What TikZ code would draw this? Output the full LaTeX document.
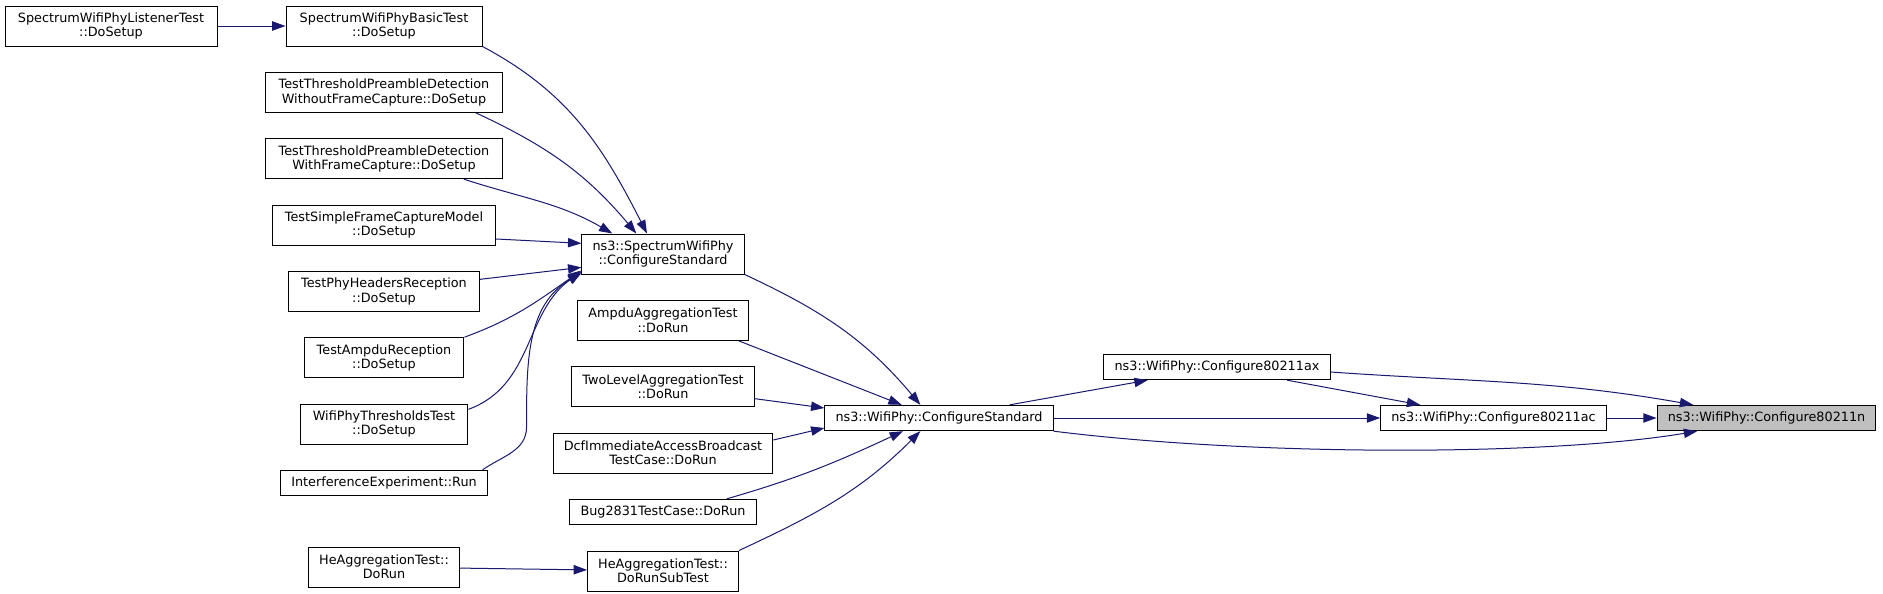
\documentclass[tikz,border=0pt]{standalone}
\usepackage{fontspec}
\setmainfont{DejaVu Sans}
\definecolor{callblue}{HTML}{191970}
\definecolor{focusgrey}{HTML}{BFBFBF}
\usetikzlibrary{arrows.meta,positioning}

\begin{document}
\begin{tikzpicture}[
  x=0.75pt, y=-0.75pt,
  fn/.style={draw=black, fill=white, line width=0.75pt, align=center,
    font=\fontsize{9.6}{10.8}\selectfont, inner xsep=8pt, inner ysep=2pt,
    minimum height=30pt},
  fn1/.style={fn, minimum height=19pt},
  setup/.style={fn, inner xsep=9.5pt},
  call/.style={draw=callblue, line width=0.75pt,
    -{Triangle[length=10pt,width=7pt]}},
]
  \path[use as bounding box, fill=white] (0,0) rectangle (1883,593);

  \node[setup, minimum width=159pt] (lst) at (111,26) {SpectrumWifiPhyListenerTest\\::DoSetup};
  \node[setup, minimum width=147pt] (basic) at (384,26) {SpectrumWifiPhyBasicTest\\::DoSetup};
  \node[setup, below=19pt of basic] (nofc)
    {TestThresholdPreambleDetection\\WithoutFrameCapture::DoSetup};
  \node[setup, below=19pt of nofc] (withfc)
    {TestThresholdPreambleDetection\\WithFrameCapture::DoSetup};
  \node[setup, below=19pt of withfc] (simplefc) {TestSimpleFrameCaptureModel\\::DoSetup};
  \node[setup, below=19pt of simplefc] (hdrs) {TestPhyHeadersReception\\::DoSetup};
  \node[setup, below=19pt of hdrs] (ampdurx) {TestAmpduReception\\::DoSetup};
  \node[setup, below=19pt of ampdurx] (thresh) {WifiPhyThresholdsTest\\::DoSetup};
  \node[fn1, below=19pt of thresh] (interf) {InterferenceExperiment::Run};
  \node[fn] (heagg) at (384,567) {HeAggregationTest::\\DoRun};

  \node[fn] (spec) at (663,254) {ns3::SpectrumWifiPhy\\::ConfigureStandard};
  \node[fn, below=19pt of spec] (ampduagg) {AmpduAggregationTest\\::DoRun};
  \node[fn, below=19pt of ampduagg] (twolevel) {TwoLevelAggregationTest\\::DoRun};
  \node[fn, below=19pt of twolevel] (dcf) {DcfImmediateAccessBroadcast\\TestCase::DoRun};
  \node[fn1, below=19pt of dcf] (bug) {Bug2831TestCase::DoRun};
  \node[fn, below=19pt of bug] (subtest) {HeAggregationTest::\\DoRunSubTest};

  \node[fn1] (cfgstd) at (939,418) {ns3::WifiPhy::ConfigureStandard};
  \node[fn1] (cfgax) at (1217,367) {ns3::WifiPhy::Configure80211ax};
  \node[fn1] (cfgac) at (1493.5,418) {ns3::WifiPhy::Configure80211ac};
  \node[fn1, fill=focusgrey] (cfgn) at (1766.5,418) {ns3::WifiPhy::Configure80211n};

  \draw[call] (lst) -- (basic);
  \draw[call] (basic.south east) to[out=-28, in=117] ([xshift=-12pt]spec.north);
  \draw[call] ([xshift=-20pt]nofc.south east) to[out=-25, in=130] ([xshift=-20pt]spec.north);
  \draw[call] ([xshift=-29pt]withfc.south east) to[out=-18, in=150] ([xshift=-38pt]spec.north);
  \draw[call] ([yshift=-10.5pt]simplefc.east) -- ([yshift=8pt]spec.west);
  \draw[call] ([yshift=9pt]hdrs.east) -- ([yshift=-10pt]spec.west);
  \draw[call] (ampdurx.north east) to[out=20, in=215] ([yshift=3pt]spec.south west);
  \draw[call] ([yshift=11pt]thresh.east) to[out=20, in=215] ([yshift=2pt]spec.south west);
  \draw[call] ([xshift=-4pt]interf.north east) to[out=35, in=-90] ++(44,-43)
    to[out=90, in=210] ([yshift=1pt]spec.south west);
  \draw[call] (heagg) -- (subtest);

  \draw[call] (spec.south east) to[out=-25, in=130] ([xshift=-14pt]cfgstd.north);
  \draw[call] ([xshift=-7.5pt]ampduagg.south east) -- ([xshift=-28pt]cfgstd.north);
  \draw[call] ([yshift=-9pt]twolevel.east) -- ([yshift=7.5pt]cfgstd.west);
  \draw[call] ([yshift=9.75pt]dcf.east) -- ([yshift=-7.5pt]cfgstd.west);
  \draw[call] ([xshift=-22.5pt]bug.north east) to[out=16, in=205] ([xshift=-27pt]cfgstd.south);
  \draw[call] (subtest.north east) to[out=25, in=225] ([xshift=-14pt]cfgstd.south);

  \draw[call] ([xshift=53pt]cfgstd.north) -- ([xshift=-52pt]cfgax.south);
  \draw[call] (cfgstd) -- (cfgac);
  \draw[call] (cfgstd.south east) .. controls +(200,25) and +(-150,25) .. ([xshift=-52pt]cfgn.south);
  \draw[call] ([xshift=52.5pt]cfgax.south) -- ([xshift=-55pt]cfgac.north);
  \draw[call] ([yshift=-3.75pt]cfgax.east) to[out=-4, in=170] ([xshift=-55pt]cfgn.north);
  \draw[call] (cfgac) -- (cfgn);
\end{tikzpicture}
\end{document}
